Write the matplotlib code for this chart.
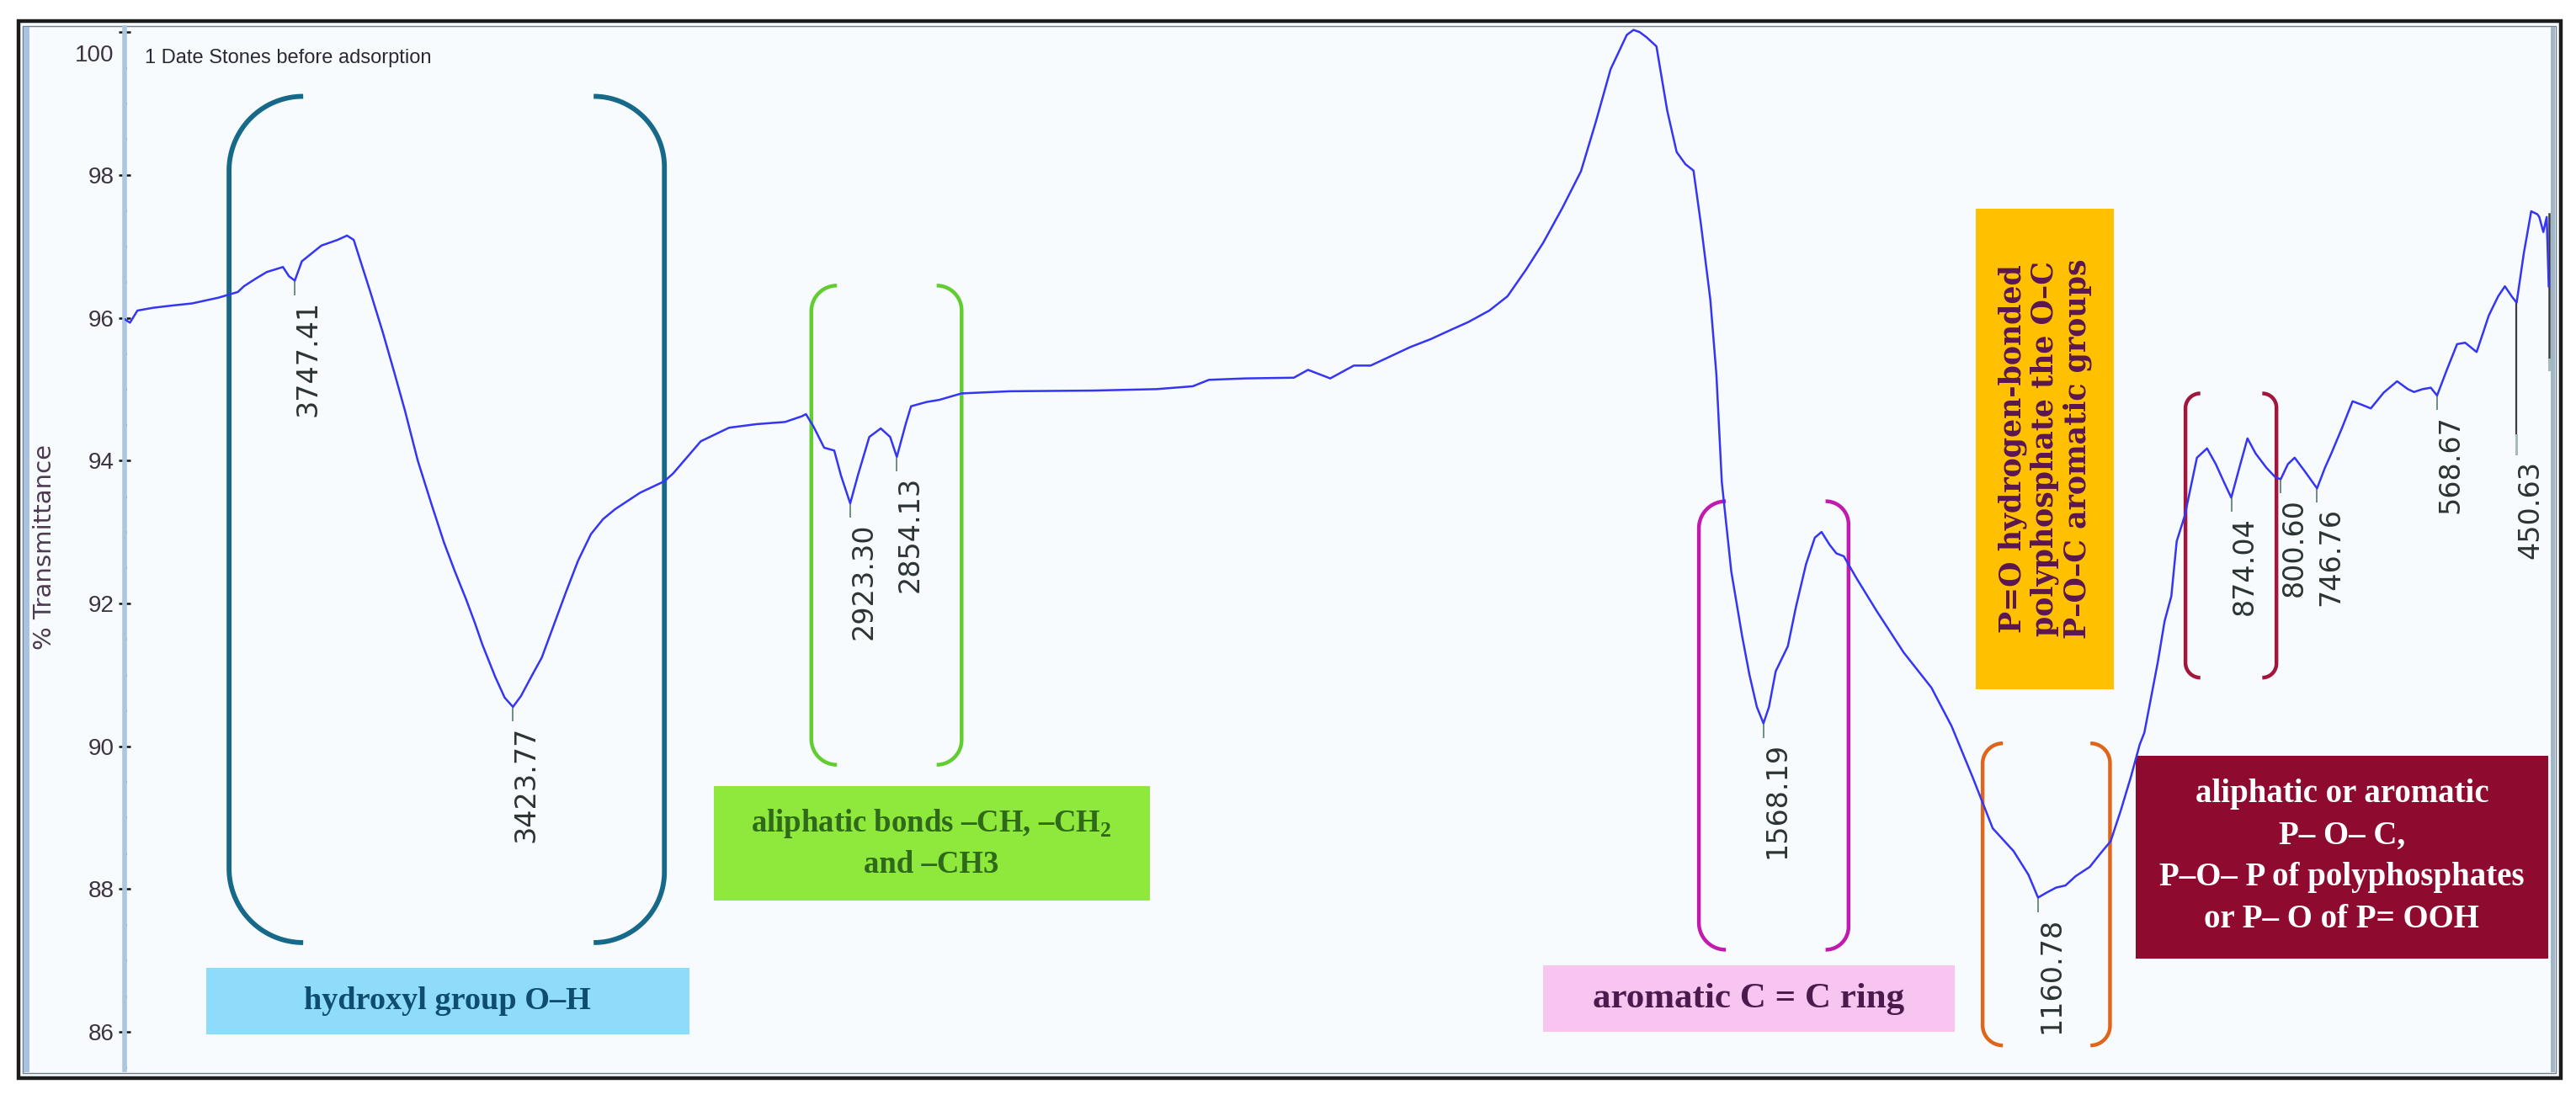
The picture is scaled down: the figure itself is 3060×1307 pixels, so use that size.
import numpy as np
import matplotlib.pyplot as plt
from matplotlib.patches import Rectangle
from matplotlib.transforms import ScaledTranslation

plt.rcParams['mathtext.fontset'] = 'custom'
plt.rcParams['mathtext.rm'] = 'Liberation Serif:bold'

# FTIR spectrum, date stones before adsorption
wavenumber = [
    4000, 3992, 3981, 3957, 3930, 3900, 3861, 3832, 3823, 3805, 3789, 3765, 3756, 3747.41,
    3737, 3708, 3684, 3670, 3660, 3636, 3617, 3600, 3584, 3565, 3545, 3526, 3510, 3493,
    3480, 3469, 3450, 3436, 3423.77, 3412, 3395, 3381, 3363, 3345, 3327, 3308, 3290, 3272,
    3235, 3199, 3186, 3165, 3145, 3103, 3062, 3020, 2995, 2989, 2978, 2962, 2947, 2937,
    2923.30, 2912, 2895, 2878, 2864, 2854.13, 2841, 2833, 2810, 2791, 2758, 2687, 2562,
    2469, 2415, 2391, 2337, 2265, 2244, 2211, 2176, 2151, 2092, 2062, 2032, 2006, 1975,
    1948, 1920, 1895, 1867, 1839, 1817, 1795, 1771, 1761, 1752, 1742, 1727, 1711, 1697,
    1684, 1672, 1661, 1647, 1638, 1630, 1616, 1600, 1589, 1578, 1568.19, 1560, 1550, 1532,
    1520, 1505, 1492, 1482, 1470, 1460, 1449, 1430, 1400, 1380, 1360, 1319, 1289, 1258,
    1228, 1197, 1175, 1160.78, 1148, 1134, 1120, 1105, 1084, 1068, 1053, 1038, 1023, 1010,
    1003, 983, 973, 963, 955, 943, 925, 910, 897, 885, 874.04, 862, 850, 838, 822, 808,
    800.60, 790, 780, 765, 746.76, 735, 726, 710, 694, 680, 667, 648, 628, 612, 603, 590,
    578, 568.67, 555, 539, 527, 510, 500, 492, 478, 468, 458, 450.63, 440, 429, 420, 417,
    411, 406, 403,
]
transmittance = [
    95.98, 95.93, 96.10, 96.14, 96.17, 96.20, 96.28, 96.36, 96.44, 96.55, 96.64, 96.71, 96.58, 96.52,
    96.79, 97.01, 97.09, 97.15, 97.09, 96.38, 95.80, 95.24, 94.70, 94.00, 93.40, 92.85, 92.45, 92.05,
    91.72, 91.42, 90.97, 90.68, 90.55, 90.70, 91.00, 91.24, 91.70, 92.16, 92.60, 92.97, 93.18, 93.32,
    93.55, 93.71, 93.82, 94.05, 94.27, 94.46, 94.51, 94.54, 94.62, 94.65, 94.48, 94.18, 94.14, 93.79,
    93.40, 93.79, 94.33, 94.45, 94.33, 94.05, 94.51, 94.76, 94.82, 94.85, 94.94, 94.97, 94.98,
    95.00, 95.04, 95.13, 95.15, 95.16, 95.27, 95.15, 95.33, 95.33, 95.59, 95.70, 95.83, 95.94, 96.10,
    96.30, 96.68, 97.05, 97.53, 98.05, 98.74, 99.48, 99.96, 100.03, 100.00, 99.93, 99.80, 98.90, 98.32,
    98.15, 98.06, 97.31, 96.25, 95.20, 93.70, 92.45, 91.55, 91.00, 90.55, 90.32, 90.55, 91.05, 91.40,
    91.95, 92.55, 92.92, 93.00, 92.82, 92.70, 92.66, 92.35, 91.89, 91.60, 91.31, 90.82, 90.28, 89.57,
    88.85, 88.53, 88.20, 87.88, 87.95, 88.02, 88.05, 88.18, 88.31, 88.50, 88.67, 89.10, 89.57, 90.02,
    90.19, 91.18, 91.75, 92.10, 92.87, 93.23, 94.04, 94.17, 93.95, 93.70, 93.48, 93.90, 94.31, 94.10, 93.90, 93.76,
    93.74, 93.95, 94.04, 93.85, 93.61, 93.90, 94.09, 94.45, 94.83, 94.78, 94.73, 94.95, 95.11, 95.00, 94.96, 95.00,
    95.02, 94.91, 95.25, 95.63, 95.65, 95.52, 95.80, 96.03, 96.30, 96.44, 96.30, 96.21, 96.90, 97.49, 97.45, 97.41,
    97.20, 97.41, 96.44,
]

peak_wn = [3747.41, 3423.77, 2923.30, 2854.13, 1568.19, 1160.78, 874.04, 800.60, 746.76, 568.67, 450.63]
peak_text = ["3747.41", "3423.77", "2923.30", "2854.13", "1568.19", "1160.78",
             "874.04", "800.60", "746.76", "568.67", "450.63"]

ytick_values = [86, 88, 90, 92, 94, 96, 98, 100]

sans = ['Liberation Sans', 'DejaVu Sans']
serif = ['Liberation Serif', 'DejaVu Serif']

W, H = 3060, 1307
fig = plt.figure(figsize=(W / 100, H / 100), dpi=100)
fig.patch.set_facecolor('white')

# panel with double border
fig.add_artist(Rectangle((22 / W, 1 - 1281 / H), 3020 / W, 1256 / H, transform=fig.transFigure,
                         facecolor='#f8fbfd', edgecolor='#1c1c1c', lw=3.2, zorder=-2))
fig.add_artist(Rectangle((27 / W, 1 - 1275 / H), 3009 / W, 1244 / H, transform=fig.transFigure,
                         facecolor='none', edgecolor='#6f7f8c', lw=1.0, zorder=-1))
fig.add_artist(Rectangle((28 / W, 1 - 1274 / H), 7 / W, 1242 / H, transform=fig.transFigure,
                         facecolor='#a9c2df', edgecolor='none', zorder=-1))
fig.add_artist(Rectangle((3030 / W, 1 - 1274 / H), 5 / W, 1242 / H, transform=fig.transFigure,
                         facecolor='#9fb7c9', edgecolor='none', zorder=-1))

ax = fig.add_axes([148 / W, 1 - 1271 / H, 2882 / W, 1238 / H])
ax.patch.set_alpha(0)
ax.set_xlim(4000, 400)
ax.set_ylim(85.47, 100.06)

for side in ['top', 'right', 'bottom']:
    ax.spines[side].set_visible(False)
ax.spines['left'].set_color('#abc5e5')
ax.spines['left'].set_linewidth(4)

ax.set_yticks(ytick_values)
ax.set_yticklabels([str(v) for v in ytick_values])
ax.set_yticks(np.arange(85.5, 100.01, 0.5), minor=True)
ax.tick_params(axis='y', which='major', direction='inout', length=10, width=1.8,
               color='#111111', pad=4, labelsize=20, labelcolor='#3b3342')
ax.tick_params(axis='y', which='minor', direction='inout', length=3, width=2.4, color='#111111')
ax.tick_params(axis='x', bottom=False, labelbottom=False)
for lab in ax.get_yticklabels():
    lab.set_family(sans)
top_lab = ax.get_yticklabels()[-1]
top_lab.set_transform(top_lab.get_transform() + ScaledTranslation(0, -0.25, fig.dpi_scale_trans))

ax.text(-0.033, 0.502, '% Transmittance', transform=ax.transAxes, rotation=90,
        ha='center', va='center', fontsize=21, color='#4d3a50', family='DejaVu Sans')

ax.text(3970, 99.64, '1 Date Stones before adsorption', fontsize=17, family=sans,
        color='#2a2a36', ha='left', va='center')

# spectrum
ax.plot(wavenumber, transmittance, color='#3535f5', lw=1.8, zorder=5)

# peak markers and labels (labels sit just right of their marker)
label_trans = ax.transData + ScaledTranslation(0.16, 0, fig.dpi_scale_trans)
wn_asc = wavenumber[::-1]
t_asc = transmittance[::-1]
for w, txt in zip(peak_wn, peak_text):
    tp = np.interp(w, wn_asc, t_asc)
    if txt == "450.63":
        ax.plot([w, w], [tp, 94.36], color='#3c3c3c', lw=1.6, zorder=4)
        ax.plot([w, w], [94.36, 94.1], color='#a9b8b8', lw=2.2, zorder=4)
        ty = 94.0
    else:
        ax.plot([w, w], [tp - 0.02, tp - 0.19], color='#6f8c80', lw=1.4, zorder=4)
        ty = tp - 0.27
    ax.text(w, ty, txt, rotation=90, ha='center', va='top', fontsize=24,
            color='#2b3333', family='DejaVu Sans', zorder=6, transform=label_trans)

# cut-off marker at the right edge
ax.plot([402, 402], [97.45, 95.42], color='#3c3c3c', lw=1.8, zorder=4)
ax.plot([402, 402], [95.42, 95.28], color='#a9b8b8', lw=2.2, zorder=4)

# brackets
axw = 2882 / (4000 - 400)          # px per cm-1
axh = 1238 / (100.06 - 85.47)      # px per %T


def bracket(x_edge, x_end, y_top, y_bot, color, lw):
    rx = x_end - x_edge
    ry = abs(rx) * axw / axh
    t = np.linspace(0, np.pi / 2, 40)
    top_x = x_end - rx * np.cos(t)
    top_y = y_top - ry + ry * np.sin(t)
    bot_x = x_end - rx * np.cos(t)
    bot_y = y_bot + ry - ry * np.sin(t)
    xs = np.concatenate([top_x[::-1], bot_x])
    ys = np.concatenate([top_y[::-1], bot_y])
    ax.plot(xs, ys, color=color, lw=lw, solid_capstyle='butt', zorder=3)


bracket(3845, 3735, 99.10, 87.25, '#17698a', 4.2)
bracket(3199, 3304, 99.10, 87.25, '#17698a', 4.2)
bracket(2981, 2943, 96.45, 89.74, '#62cd2f', 3.2)
bracket(2758, 2795, 96.45, 89.74, '#62cd2f', 3.2)
bracket(1664, 1624, 93.43, 87.15, '#c21aae', 3.2)
bracket(1442, 1476, 93.43, 87.15, '#c21aae', 3.2)
bracket(1243, 1213, 90.04, 85.81, '#e0651a', 3.2)
bracket(1054, 1083, 90.04, 85.81, '#e0651a', 3.2)
bracket(942, 920, 94.94, 90.96, '#a3163c', 3.2)
bracket(807, 828, 94.94, 90.96, '#a3163c', 3.2)


def label_box(x0, x1, y0, y1, fc, text, tc, size, family=serif, rotation=0, ls=1.2):
    ax.add_patch(Rectangle((x1, y0), x0 - x1, y1 - y0, facecolor=fc, edgecolor='none', zorder=2))
    ax.text((x0 + x1) / 2, (y0 + y1) / 2, text, ha='center', va='center', multialignment='center',
            fontsize=size, fontweight='bold', family=family, color=tc, rotation=rotation,
            linespacing=ls, zorder=7)


label_box(3879, 3162, 85.97, 86.90, '#8fdcfa', 'hydroxyl group O–H', '#0e4d70', 27.5)
label_box(3126, 2479, 87.84, 89.44, '#8fe83c', 'aliphatic bonds –CH, –CH$_2$\nand –CH3',
          '#2e6a1a', 26.5, ls=1.45)
label_box(1895, 1285, 86.00, 86.93, '#f8c5f0', 'aromatic C = C ring', '#4d1a4d', 31)
label_box(1253, 1048, 90.80, 97.53, '#ffc000',
          'P=O hydrogen-bonded\npolyphosphate the O–C\nP–O–C aromatic groups',
          '#5a1650', 25, family=['DejaVu Serif'], rotation=90, ls=1.15)
label_box(1016, 404, 87.03, 89.87, '#8e0a2f',
          'aliphatic or aromatic\nP– O– C,\nP–O– P of polyphosphates\nor P– O of P= OOH',
          'white', 28, ls=1.45)

fig.savefig('out.png', dpi=100, facecolor='white')
